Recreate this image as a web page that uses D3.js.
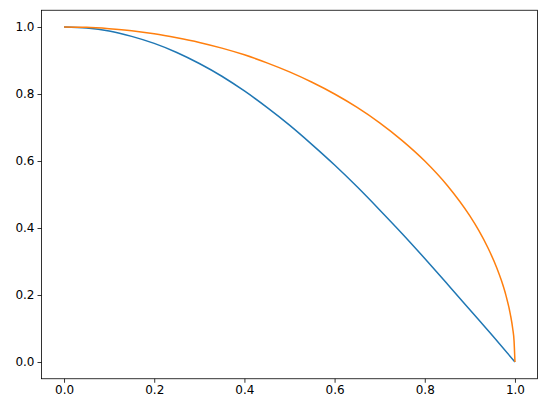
<!DOCTYPE html>
<html><head><meta charset="utf-8">
<script src="https://cdn.jsdelivr.net/npm/d3@7"></script>
<style>body{margin:0;background:#fff}svg{display:block}</style>
</head><body>
<script>
const xBlue=[0,0.05,0.1,0.15,0.2,0.25,0.3,0.35,0.4,0.45,0.5,0.55,0.6,0.65,0.7,0.75,0.8,0.85,0.9,0.95,1];
const yBlue=[1,0.997,0.988,0.972,0.951,0.924,0.891,0.853,0.809,0.760,0.707,0.649,0.588,0.523,0.454,0.383,0.309,0.233,0.156,0.079,0];
const xOrange=[0,0.05,0.1,0.15,0.2,0.25,0.3,0.35,0.4,0.45,0.5,0.55,0.6,0.65,0.7,0.75,0.8,0.85,0.9,0.92,0.94,0.96,0.97,0.98,0.99,0.995,0.998,1];
const yOrange=[1,0.999,0.995,0.989,0.980,0.968,0.954,0.937,0.917,0.893,0.866,0.835,0.8,0.760,0.714,0.661,0.6,0.527,0.436,0.392,0.341,0.28,0.243,0.199,0.141,0.100,0.063,0];
const xTicks=[0,0.2,0.4,0.6,0.8,1.0];
const yTicks=[0,0.2,0.4,0.6,0.8,1.0];

const W=547,H=413,L=41.5,R=537.5,T=10.25,B=378.75;
const svg=d3.select("body").append("svg").attr("width",W).attr("height",H);
const x=d3.scaleLinear().domain([-0.05,1.05]).range([L,R]);
const y=d3.scaleLinear().domain([-0.05,1.05]).range([B,T]);
const line=d3.line().x(d=>x(d[0])).y(d=>y(d[1])).curve(d3.curveMonotoneX);
svg.append("path").datum(xBlue.map((v,i)=>[v,yBlue[i]])).attr("d",line).attr("fill","none").attr("stroke","#1f77b4").attr("stroke-width",1.5);
svg.append("path").datum(xOrange.map((v,i)=>[v,yOrange[i]])).attr("d",line).attr("fill","none").attr("stroke","#ff7f0e").attr("stroke-width",1.5);
const fmt=d3.format(".1f");
const gx=svg.append("g").attr("transform",`translate(0,${B})`).call(d3.axisBottom(x).tickValues(xTicks).tickFormat(fmt).tickSize(4).tickPadding(3));
const gy=svg.append("g").attr("transform",`translate(${L},0)`).call(d3.axisLeft(y).tickValues(yTicks).tickFormat(fmt).tickSize(4).tickPadding(3));
[gx,gy].forEach(g=>{g.select(".domain").remove();g.selectAll("text").attr("font-family","DejaVu Sans").attr("font-size","12px").attr("fill","#000");g.selectAll("line").attr("stroke","#000").attr("stroke-width",0.8);});
svg.append("rect").attr("x",L).attr("y",T).attr("width",R-L).attr("height",B-T).attr("fill","none").attr("stroke","#000").attr("stroke-width",0.8);
</script>
</body></html>
